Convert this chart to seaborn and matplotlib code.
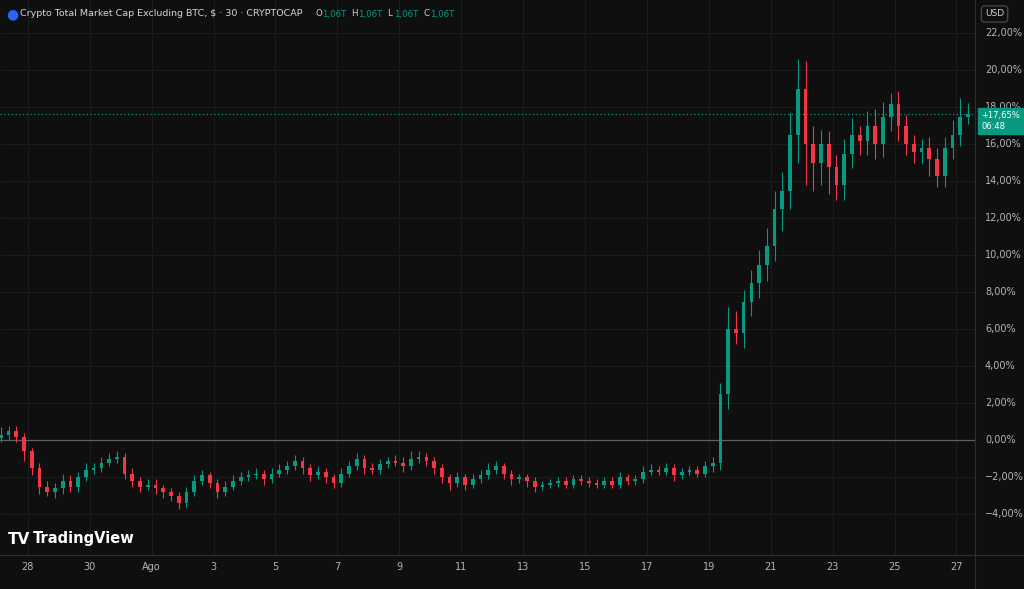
import matplotlib
matplotlib.use("Agg")
import matplotlib.pyplot as plt
import seaborn as sns
import numpy as np

# 6-hour candles, closes in % (27 Jul -> 27 Aug)
closes = [0.3, 0.5, 0.2, -0.6,
          -1.5, -2.5, -2.8, -2.6,
          -2.2, -2.5, -2.0, -1.6,
          -1.5, -1.2, -1.0, -0.9,
          -1.8, -2.2, -2.5, -2.4,
          -2.6, -2.8, -3.0, -3.4,
          -2.8, -2.2, -1.9, -2.3,
          -2.8, -2.5, -2.2, -2.0,
          -1.9, -1.8, -2.1, -1.8,
          -1.6, -1.4, -1.1, -1.5,
          -1.9, -1.7, -2.0, -2.3,
          -1.8, -1.4, -1.0, -1.5,
          -1.6, -1.3, -1.1, -1.2,
          -1.4, -1.0, -0.9, -1.1,
          -1.5, -2.0, -2.3, -2.0,
          -2.4, -2.1, -1.9, -1.6,
          -1.4, -1.8, -2.1, -2.0,
          -2.2, -2.5, -2.4, -2.3,
          -2.2, -2.4, -2.1, -2.2,
          -2.3, -2.4, -2.2, -2.4,
          -2.0, -2.2, -2.1, -1.7,
          -1.6, -1.7, -1.5, -1.9,
          -1.7, -1.6, -1.8, -1.4,
          -1.2, 2.5, 6.0, 5.8,
          7.5, 8.5, 9.5, 10.5,
          12.5, 13.5, 16.5, 19.0,
          16.0, 15.0, 16.0, 14.8,
          13.8, 15.5, 16.5, 16.2,
          17.0, 16.0, 17.5, 18.2,
          17.0, 16.0, 15.6, 15.8,
          15.2, 14.3, 15.8, 16.5,
          17.5, 17.65]
first_open = 0.1
# wick extensions above / below candle body
wick_up = [0.4, 0.3, 0.3, 0.2, 0.2, 0.3, 0.3, 0.3, 0.4, 0.3, 0.3, 0.4,
           0.3, 0.3, 0.3, 0.3, 0.2, 0.3, 0.2, 0.3, 0.3, 0.2, 0.2, 0.2,
           0.3, 0.3, 0.3, 0.2, 0.2, 0.3, 0.3, 0.3, 0.3, 0.3, 0.2, 0.3,
           0.3, 0.3, 0.3, 0.2, 0.2, 0.3, 0.2, 0.2, 0.3, 0.3, 0.3, 0.2,
           0.3, 0.3, 0.2, 0.3, 0.3, 0.4, 0.3, 0.2, 0.2, 0.2, 0.2, 0.3,
           0.2, 0.3, 0.3, 0.4, 0.3, 0.2, 0.2, 0.2, 0.2, 0.2, 0.2, 0.2,
           0.2, 0.2, 0.2, 0.2, 0.2, 0.2, 0.2, 0.2, 0.3, 0.2, 0.2, 0.3,
           0.3, 0.2, 0.3, 0.2, 0.2, 0.2, 0.2, 0.3, 0.3, 0.6, 1.2, 1.0,
           0.6, 0.7, 0.8, 1.0, 1.0, 1.0, 1.2, 1.6, 1.5, 1.0, 0.8, 0.7,
           0.6, 0.8, 0.9, 0.5, 0.8, 0.9, 0.8, 0.6, 0.7, 0.6, 0.5, 0.5,
           0.6, 0.6, 0.6, 0.8, 1.0, 0.6]
wick_dn = [0.2, 0.3, 0.3, 0.5, 0.4, 0.4, 0.2, 0.3, 0.3, 0.3, 0.3, 0.2,
           0.2, 0.2, 0.2, 0.2, 0.3, 0.3, 0.3, 0.2, 0.3, 0.3, 0.3, 0.3,
           0.2, 0.2, 0.2, 0.3, 0.3, 0.2, 0.2, 0.2, 0.2, 0.2, 0.3, 0.2,
           0.2, 0.2, 0.2, 0.3, 0.3, 0.2, 0.3, 0.3, 0.2, 0.2, 0.2, 0.3,
           0.2, 0.2, 0.2, 0.2, 0.3, 0.2, 0.2, 0.3, 0.3, 0.3, 0.4, 0.2,
           0.3, 0.2, 0.2, 0.2, 0.2, 0.3, 0.3, 0.2, 0.3, 0.3, 0.2, 0.2,
           0.2, 0.2, 0.2, 0.2, 0.2, 0.2, 0.2, 0.2, 0.2, 0.2, 0.2, 0.2,
           0.2, 0.2, 0.2, 0.3, 0.2, 0.2, 0.2, 0.2, 0.3, 0.4, 0.8, 0.6,
           0.8, 0.8, 0.8, 0.9, 0.8, 1.2, 1.0, 1.5, 2.2, 1.5, 1.2, 1.5,
           0.8, 0.8, 0.8, 0.8, 0.8, 0.8, 0.7, 0.8, 0.8, 0.6, 0.6, 0.6,
           0.9, 0.6, 0.6, 0.6, 0.6, 0.4]
tick_pos = [1, 3, 5, 7, 9, 11, 13, 15, 17, 19, 21, 23, 25, 27, 29, 31]
tick_labels = ["28", "30", "Ago", "3", "5", "7", "9", "11", "13", "15",
               "17", "19", "21", "23", "25", "27"]
y_ticks = [-4, -2, 0, 2, 4, 6, 8, 10, 12, 14, 16, 18, 20, 22]

BG = "#0f0f0f"
UP = "#089981"
DN = "#f23645"
TXT = "#b2b5be"
GRID = "#1c1c1c"

sns.set_theme(style="dark", rc={"axes.facecolor": BG, "figure.facecolor": BG})
plt.rcParams["font.family"] = ["DejaVu Sans"]

fig = plt.figure(figsize=(10.24, 5.89), dpi=100)
ax = fig.add_axes([0, 34/589, 975/1024, 1 - 34/589])
ax.set_facecolor(BG)

c = np.array(closes)
o = np.concatenate([[first_open], c[:-1]])
x = np.arange(len(c)) * 0.25 + 0.125
hi = np.maximum(o, c) + np.array(wick_up)
lo = np.minimum(o, c) - np.array(wick_dn)
col = [UP if cc >= oo else DN for oo, cc in zip(o, c)]

for t in y_ticks:
    ax.axhline(t, color=GRID, lw=0.8, zorder=0)
for t in tick_pos:
    ax.axvline(t, color=GRID, lw=0.8, zorder=0)

ax.vlines(x, lo, hi, colors=col, lw=0.8, zorder=2)
ax.bar(x, np.maximum(np.abs(c - o), 0.05), bottom=np.minimum(o, c), width=0.12,
       color=col, zorder=3, linewidth=0)

ax.axhline(0, color="#5d606b", lw=0.9, zorder=1)
ax.axhline(closes[-1], color=UP, lw=0.9, ls=(0, (1, 2)), zorder=1)

ax.set_xlim(0.1, 31.6)
ax.set_ylim(-6.2, 23.8)
ax.set_xticks([])
ax.set_yticks([])
for s in ax.spines.values():
    s.set_visible(False)

# right price scale
for t in y_ticks:
    fig.text(985/1024, ax.transData.transform((0, t))[1] / 589,
             f"{t},00%".replace("-", "\u2212"), color=TXT, fontsize=7,
             va="center", ha="left")
# bottom time scale
for p, lab in zip(tick_pos, tick_labels):
    fig.text(ax.transData.transform((p, 0))[0] / 1024, 22/589, lab,
             color=TXT, fontsize=7, ha="center", va="center")
fig.add_artist(plt.Line2D([975/1024, 975/1024], [0, 1], color="#2a2e39", lw=0.8))
fig.add_artist(plt.Line2D([0, 1], [34/589, 34/589], color="#2a2e39", lw=0.8))

# last price tag
ylast = ax.transData.transform((0, closes[-1]))[1] / 589
fig.text(981/1024, ylast - 0.012, "+17,65%\n06:48", color="white", fontsize=6,
         va="center", ha="left", linespacing=1.3,
         bbox=dict(boxstyle="square,pad=0.35", fc=UP, ec=UP))

# header
fig.text(6/1024, 1 - 14/589, "\u25CF", color="#2962ff", fontsize=10, va="center")
fig.text(20/1024, 1 - 14/589, "Crypto Total Market Cap Excluding BTC, $ \u00b7 30 \u00b7 CRYPTOCAP",
         color="#d1d4dc", fontsize=6.8, va="center")
hx = 315
for lab in ["O", "H", "L", "C"]:
    fig.text(hx/1024, 1 - 14/589, lab, color="#d1d4dc", fontsize=6.2, va="center")
    fig.text((hx + 7)/1024, 1 - 14/589, "1,06T", color=UP, fontsize=6.2, va="center")
    hx += 36
fig.text(985/1024, 1 - 14/589, "USD", color="#d1d4dc", fontsize=6.5, va="center",
         bbox=dict(boxstyle="round,pad=0.4", fc=BG, ec="#434651"))
fig.text(8/1024, 1 - 539/589, "TV", color="white", fontsize=11, fontweight="bold",
         va="center")
fig.text(33/1024, 1 - 539/589, "TradingView", color="white", fontsize=10.5,
         fontweight="bold", va="center")

fig.savefig("out.png", dpi=100, facecolor=BG)
